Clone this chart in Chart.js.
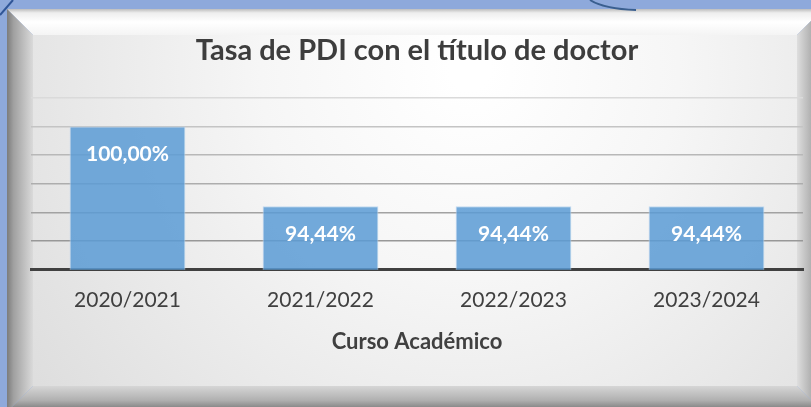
<!DOCTYPE html>
<html>
<head>
<meta charset="utf-8">
<script src="https://cdn.jsdelivr.net/npm/chart.js@4.4.1/dist/chart.umd.min.js"></script>
<style>
  html, body { margin: 0; padding: 0; background: #8EA9DB; }
  #wrap { width: 811px; height: 407px; position: relative; }
</style>
</head>
<body>
<div id="wrap"><canvas id="c" width="811" height="407"></canvas></div>
<script>
// Data
const categories = ['2020/2021', '2021/2022', '2022/2023', '2023/2024'];
const tasaDoctor = [100.00, 94.44, 94.44, 94.44];
const yTicks = [90, 92, 94, 96, 98, 100, 102];

const chartTitle = 'Tasa de PDI con el título de doctor';
const xTitle = 'Curso Académico';

const FONT = 'Lato, "Open Sans", sans-serif';

function formatPct(v) {
  return v.toFixed(2).replace('.', ',') + '%';
}

// Bevelled panel behind the chart
const panelPlugin = {
  id: 'panel',
  beforeDraw(chart) {
    const ctx = chart.ctx;
    const W = chart.width, H = chart.height;
    ctx.save();
    ctx.fillStyle = '#8EA9DB';
    ctx.fillRect(0, 0, W, H);

    const ox0 = 7, oy0 = 9, ox1 = 823, oy1 = 412;
    const ix0 = 33, iy0 = 35, ix1 = 797, iy1 = 386;

    // face
    const face = ctx.createRadialGradient(470, 70, 20, 470, 70, 560);
    face.addColorStop(0, '#ffffff');
    face.addColorStop(0.35, '#f6f6f6');
    face.addColorStop(1, '#dcdcdc');
    ctx.fillStyle = face;
    ctx.fillRect(ix0, iy0, ix1 - ix0, iy1 - iy0);

    // top bevel
    let g = ctx.createLinearGradient(0, oy0, 0, iy0);
    g.addColorStop(0, '#bdbdbd');
    g.addColorStop(0.15, '#eeeeee');
    g.addColorStop(0.5, '#ffffff');
    g.addColorStop(1, '#f4f4f4');
    ctx.fillStyle = g;
    ctx.beginPath();
    ctx.moveTo(ox0, oy0); ctx.lineTo(ox1, oy0); ctx.lineTo(ix1, iy0); ctx.lineTo(ix0, iy0);
    ctx.closePath(); ctx.fill();

    // left bevel
    g = ctx.createLinearGradient(ox0, 0, ix0, 0);
    g.addColorStop(0, '#7c7c7c');
    g.addColorStop(0.25, '#a0a0a0');
    g.addColorStop(1, '#dadada');
    ctx.fillStyle = g;
    ctx.beginPath();
    ctx.moveTo(ox0, oy0); ctx.lineTo(ix0, iy0); ctx.lineTo(ix0, iy1); ctx.lineTo(ox0, oy1);
    ctx.closePath(); ctx.fill();

    // bottom bevel
    g = ctx.createLinearGradient(0, iy1, 0, oy1);
    g.addColorStop(0, '#d6d6d6');
    g.addColorStop(0.55, '#b0b0b0');
    g.addColorStop(1, '#6e6e6e');
    ctx.fillStyle = g;
    ctx.beginPath();
    ctx.moveTo(ox0, oy1); ctx.lineTo(ix0, iy1); ctx.lineTo(ix1, iy1); ctx.lineTo(ox1, oy1);
    ctx.closePath(); ctx.fill();

    // right bevel
    g = ctx.createLinearGradient(ix1, 0, ox1, 0);
    g.addColorStop(0, '#dedede');
    g.addColorStop(0.5, '#b4b4b4');
    g.addColorStop(1, '#8a8a8a');
    ctx.fillStyle = g;
    ctx.beginPath();
    ctx.moveTo(ox1, oy0); ctx.lineTo(ix1, iy0); ctx.lineTo(ix1, iy1); ctx.lineTo(ox1, oy1);
    ctx.closePath(); ctx.fill();

    // decorative strokes in the blue margin
    ctx.strokeStyle = '#2F5597';
    ctx.lineWidth = 2;
    ctx.beginPath();
    ctx.moveTo(0, 15); ctx.lineTo(13, 0);
    ctx.stroke();
    ctx.strokeStyle = '#3A5F8F';
    ctx.beginPath();
    ctx.moveTo(590, 0);
    ctx.quadraticCurveTo(604, 9, 636, 10);
    ctx.stroke();
    ctx.restore();
  }
};

// Value labels inside the bars
const barLabelPlugin = {
  id: 'barLabels',
  afterDatasetsDraw(chart) {
    const ctx = chart.ctx;
    const meta = chart.getDatasetMeta(0);
    const data = chart.data.datasets[0].data;
    ctx.save();
    ctx.fillStyle = '#ffffff';
    ctx.font = 'bold 21px ' + FONT;
    ctx.textAlign = 'center';
    ctx.textBaseline = 'middle';
    meta.data.forEach((bar, i) => {
      ctx.fillText(formatPct(data[i]), bar.x, bar.y + 28);
    });
    ctx.restore();
  }
};

const gridColors = {102: '#dadada', 100: '#c4c4c4', 98: '#b8b8b8', 96: '#adadad', 94: '#a2a2a2', 92: '#989898', 90: 'rgba(0,0,0,0)'};

new Chart(document.getElementById('c'), {
  type: 'bar',
  data: {
    labels: categories,
    datasets: [{
      data: tasaDoctor,
      backgroundColor: 'rgba(91,155,213,0.85)',
      borderColor: 'rgba(190,215,240,0.9)',
      borderWidth: 1,
      categoryPercentage: 0.6,
      barPercentage: 1.0
    }]
  },
  options: {
    responsive: false,
    animation: false,
    layout: { padding: { left: 31, right: 8, top: 0, bottom: 54 } },
    plugins: {
      legend: { display: false },
      tooltip: { enabled: false },
      title: {
        display: true,
        text: chartTitle,
        color: '#3d3d3d',
        font: { family: FONT, size: 29, weight: 'bold', lineHeight: 1.2 },
        padding: { top: 33, bottom: 30 }
      }
    },
    scales: {
      x: {
        grid: { display: false, drawTicks: false },
        border: { display: true, color: '#404040', width: 3 },
        ticks: {
          color: '#404040',
          font: { family: FONT, size: 21, lineHeight: 1.2 },
          padding: 18
        },
        title: {
          display: true,
          text: xTitle,
          color: '#404040',
          font: { family: FONT, size: 22, weight: 'bold', lineHeight: 1.0 },
          padding: { top: 0, bottom: 0 }
        }
      },
      y: {
        min: 90,
        max: 102,
        afterBuildTicks(scale) {
          scale.ticks = yTicks.map(v => ({ value: v }));
        },
        ticks: { display: false },
        border: { display: false },
        grid: {
          drawTicks: false,
          lineWidth: 1.5,
          color: (c) => gridColors[c.tick && c.tick.value] || '#b0b0b0'
        }
      }
    }
  },
  plugins: [panelPlugin, barLabelPlugin]
});
</script>
</body>
</html>
